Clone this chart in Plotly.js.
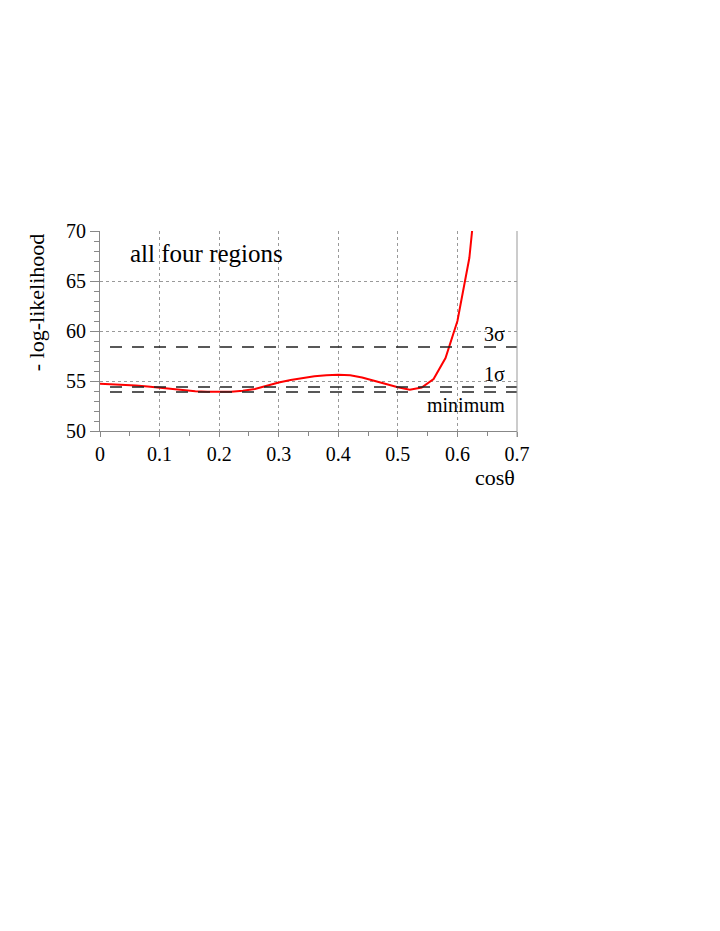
<!DOCTYPE html>
<html>
<head>
<meta charset="utf-8">
<script src="https://cdn.plot.ly/plotly-3.0.1.min.js"></script>
<style>html,body{margin:0;padding:0;background:#fff;}#chart{width:720px;height:931px;}</style>
</head>
<body>
<div id="chart"></div>
<script>
// cos(theta) scan points
const cosTheta = [0.00, 0.02, 0.04, 0.06, 0.08, 0.10, 0.12, 0.14, 0.16, 0.18,
                  0.20, 0.22, 0.24, 0.26, 0.28, 0.30, 0.32, 0.34, 0.36, 0.38,
                  0.40, 0.42, 0.44, 0.46, 0.48, 0.50, 0.52, 0.54, 0.56, 0.58,
                  0.60, 0.62, 0.64];
// - log-likelihood values
const negLogL = [54.73, 54.68, 54.62, 54.55, 54.45, 54.32, 54.20, 54.08, 53.98, 53.92,
                 53.90, 53.93, 54.03, 54.20, 54.52, 54.85, 55.10, 55.30, 55.47, 55.58,
                 55.63, 55.58, 55.35, 55.02, 54.68, 54.38, 54.13, 54.35, 55.20, 57.30,
                 61.00, 67.30, 79.00];
// reference levels
const levelLabels = ["minimum", "1σ", "3σ"];
const levelValues = [53.9, 54.4, 58.4];

const xTicks = [0, 0.1, 0.2, 0.3, 0.4, 0.5, 0.6, 0.7];
const xTickText = ["0", "0.1", "0.2", "0.3", "0.4", "0.5", "0.6", "0.7"];
const yTicks = [50, 55, 60, 65, 70];
const yTickText = ["50", "55", "60", "65", "70"];

const FONT = "'Liberation Serif', 'Times New Roman', serif";

const traces = [{
  x: cosTheta, y: negLogL, type: "scatter", mode: "lines",
  line: {color: "#ff0000", width: 2}, hoverinfo: "skip", cliponaxis: true
}];

const shapes = levelValues.map(v => ({
  type: "line", xref: "paper", yref: "y", x0: 0.024, x1: 1, y0: v, y1: v,
  line: {color: "#222", width: 1.5, dash: "12px,10px"}
}));
shapes.push({type: "line", xref: "paper", yref: "paper", x0: 1, x1: 1, y0: -0.03, y1: 1,
  line: {color: "#999", width: 1}});

const annotations = [
  {text: "all four regions", xref: "paper", yref: "paper", x: 0.068, y: 0.887,
   xanchor: "left", yanchor: "middle", showarrow: false, font: {family: FONT, size: 25, color: "#000"}},
  {text: "- log-likelihood", xref: "paper", yref: "paper", x: -0.152, y: 0.642,
   xanchor: "center", yanchor: "middle", textangle: -90, showarrow: false, font: {family: FONT, size: 22, color: "#000"}},
  {text: "cosθ", xref: "paper", yref: "paper", x: 1.0, y: -0.23,
   xanchor: "right", yanchor: "middle", showarrow: false, font: {family: FONT, size: 22, color: "#000"}}
];
levelLabels.forEach((lab, i) => {
  annotations.push({
    text: lab, xref: "paper", yref: "y", x: 0.975, y: levelValues[i],
    xanchor: "right", yanchor: lab === "minimum" ? "top" : "bottom",
    showarrow: false, font: {family: FONT, size: 20, color: "#000"}
  });
});

const layout = {
  width: 720, height: 931,
  margin: {l: 100, r: 203, t: 231, b: 500, pad: 0},
  paper_bgcolor: "#fff", plot_bgcolor: "#fff",
  showlegend: false,
  font: {family: FONT, size: 20, color: "#000"},
  xaxis: {
    range: [0, 0.7], tickvals: xTicks, ticktext: xTickText,
    showgrid: true, gridcolor: "#999", griddash: "dot", gridwidth: 1,
    zeroline: false, showline: true, linecolor: "#888", linewidth: 1,
    ticks: "outside", ticklen: 5, tickcolor: "#888",
    minor: {dtick: 0.05, ticks: "outside", ticklen: 4, tickcolor: "#888", showgrid: false},
    tickfont: {family: FONT, size: 20, color: "#000"}, fixedrange: true
  },
  yaxis: {
    range: [50, 70], tickvals: yTicks, ticktext: yTickText,
    showgrid: true, gridcolor: "#999", griddash: "dot", gridwidth: 1,
    zeroline: false, showline: true, linecolor: "#888", linewidth: 1,
    ticks: "outside", ticklen: 9, tickcolor: "#888",
    minor: {dtick: 1, ticks: "outside", ticklen: 5, tickcolor: "#888", showgrid: false},
    tickfont: {family: FONT, size: 20, color: "#000"}, fixedrange: true
  },
  shapes: shapes,
  annotations: annotations
};

Plotly.newPlot("chart", traces, layout, {displayModeBar: false, staticPlot: true});
</script>
</body>
</html>
